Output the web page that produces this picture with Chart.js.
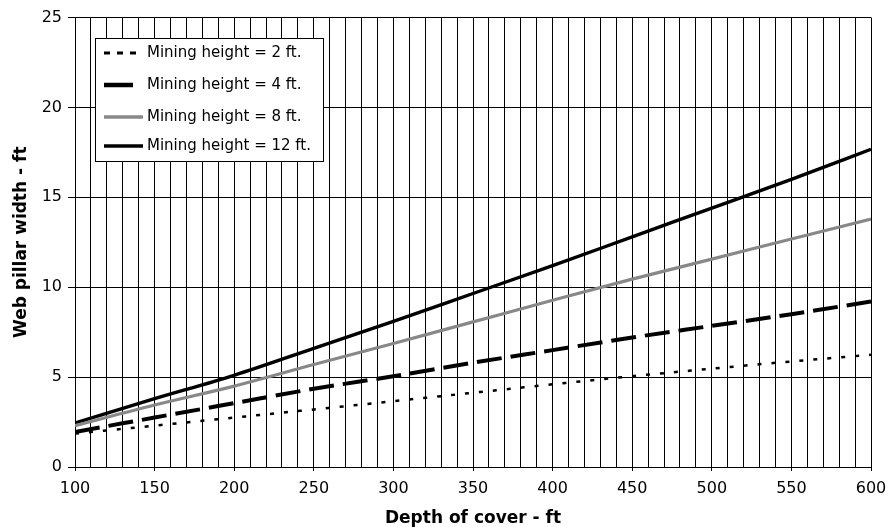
<!DOCTYPE html>
<html>
<head>
<meta charset="utf-8">
<script src="https://cdn.jsdelivr.net/npm/chart.js@4.4.0/dist/chart.umd.min.js"></script>
<style>
  body { margin: 0; background: #fff; }
  #wrap { width: 888px; height: 527px; }
</style>
</head>
<body>
<div id="wrap"><canvas id="pillarChart"></canvas></div>
<script>
// depth of cover (ft) and web pillar width (ft) per mining height
const depths = [100, 150, 200, 250, 300, 350, 400, 450, 500, 550, 600];
const height2 = [1.86, 2.3, 2.75, 3.2, 3.66, 4.13, 4.6, 5.05, 5.47, 5.87, 6.24];
const height4 = [1.95, 2.75, 3.55, 4.35, 5.05, 5.8, 6.5, 7.2, 7.85, 8.5, 9.2];
const height8 = [2.3, 3.45, 4.5, 5.7, 6.87, 8.07, 9.27, 10.45, 11.56, 12.68, 13.79];
const height12 = [2.45, 3.8, 5.1, 6.6, 8.1, 9.65, 11.2, 12.8, 14.4, 16.0, 17.67];
const seriesLabels = ['Mining height = 2 ft.', 'Mining height = 4 ft.', 'Mining height = 8 ft.', 'Mining height = 12 ft.'];

const toPoints = vals => depths.map((d, i) => ({ x: d, y: vals[i] }));
const FONT = 'DejaVu Sans';

// legend drawn inside the plot, top left, like the original
const boxLegend = {
  id: 'boxLegend',
  afterDraw(chart) {
    const c = chart.ctx;
    const x0 = 95.5, y0 = 38.5, w = 228, h = 123;
    const rows = [53, 85, 117, 146];
    c.save();
    c.fillStyle = '#fff';
    c.fillRect(x0, y0, w, h);
    c.strokeStyle = '#000';
    c.lineWidth = 1;
    c.strokeRect(x0, y0, w, h);
    chart.data.datasets.forEach((ds, i) => {
      const y = rows[i];
      c.beginPath();
      c.strokeStyle = ds.borderColor;
      c.lineWidth = ds.legendWidth;
      c.setLineDash(ds.legendDash);
      c.moveTo(104, y);
      c.lineTo(ds.legendEnd, y);
      c.stroke();
      c.setLineDash([]);
      c.fillStyle = '#000';
      c.font = '15px "' + FONT + '"';
      c.textBaseline = 'middle';
      c.fillText(ds.label, 147, y);
    });
    c.restore();
  }
};

const ctx = document.getElementById('pillarChart').getContext('2d');
new Chart(ctx, {
  type: 'line',
  data: {
    datasets: [
      { label: seriesLabels[0], data: toPoints(height2), borderColor: '#000', borderWidth: 2.5, borderDash: [4, 10],
        legendDash: [6, 7], legendWidth: 3, legendEnd: 143 },
      { label: seriesLabels[1], data: toPoints(height4), borderColor: '#000', borderWidth: 4, borderDash: [25, 9],
        legendDash: [], legendWidth: 4.5, legendEnd: 133 },
      { label: seriesLabels[2], data: toPoints(height8), borderColor: '#888888', borderWidth: 3.2, borderDash: [],
        legendDash: [], legendWidth: 3.5, legendEnd: 143 },
      { label: seriesLabels[3], data: toPoints(height12), borderColor: '#000', borderWidth: 3.4, borderDash: [],
        legendDash: [], legendWidth: 3.5, legendEnd: 143 }
    ]
  },
  options: {
    responsive: true,
    maintainAspectRatio: false,
    animation: false,
    layout: { padding: { top: 17.5, right: 17, left: 0, bottom: 0 } },
    elements: { point: { radius: 0 }, line: { cubicInterpolationMode: 'monotone' } },
    plugins: {
      legend: { display: false },
      tooltip: { enabled: false }
    },
    scales: {
      x: {
        type: 'linear',
        min: 100,
        max: 600,
        afterFit: s => { s.height = 60; s.paddingLeft = 0; s.paddingRight = 0; },
        border: { color: '#000', width: 1 },
        grid: {
          color: '#000',
          lineWidth: 1,
          tickLength: 4,
          tickColor: c => (c.tick && c.tick.value % 50 === 0 ? '#000' : 'rgba(0,0,0,0)')
        },
        ticks: {
          stepSize: 10,
          autoSkip: false,
          maxRotation: 0,
          padding: 8,
          color: '#000',
          font: { family: FONT, size: 16 },
          callback: v => (v % 50 === 0 ? v : '')
        },
        title: {
          display: true,
          text: 'Depth of cover - ft',
          color: '#000',
          font: { family: FONT, size: 17, weight: 'bold' },
          padding: { top: 0, bottom: -2 }
        }
      },
      y: {
        min: 0,
        max: 25,
        afterFit: s => { s.width = 75; s.paddingTop = 0; s.paddingBottom = 0; },
        border: { color: '#000', width: 1 },
        grid: { color: '#000', lineWidth: 1, tickLength: 7, tickColor: '#000' },
        ticks: {
          stepSize: 5,
          padding: 6,
          color: '#000',
          font: { family: FONT, size: 16 }
        },
        title: {
          display: true,
          text: 'Web pillar width - ft',
          color: '#000',
          font: { family: FONT, size: 17, weight: 'bold' },
          padding: { top: 11, bottom: 0 }
        }
      }
    }
  },
  plugins: [boxLegend]
});
</script>
</body>
</html>
